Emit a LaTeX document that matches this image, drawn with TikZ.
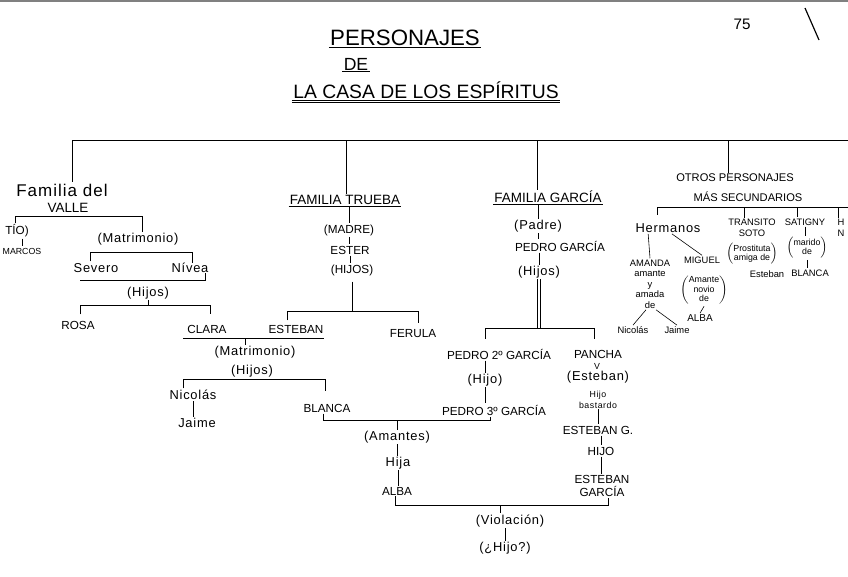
\documentclass[tikz,border=0pt]{standalone}
\usepackage{fontspec}
\setmainfont{Liberation Sans}
\newfontfamily\handfont[LetterSpace=6]{Liberation Sans}
\usetikzlibrary{positioning}

\begin{document}
\begin{tikzpicture}[
                    x=0.03cm, y=-0.03cm,
                    pers/.style={inner sep=1pt, font=\fontsize{10}{11}\selectfont},
                    cur/.style={inner sep=1pt, font=\handfont\fontsize{11}{12}\selectfont},
                    small/.style={inner sep=1pt, font=\fontsize{7.5}{8.5}\selectfont, align=center},
                    fam/.style={inner sep=1pt, font=\fontsize{11.5}{12}\selectfont, align=center},
                    link/.style={line width=0.6pt},
                    tick/.style={line width=0.5pt}
                ]
                \useasboundingbox (0,0) rectangle (848,576);
                \draw[gray, line width=1pt] (0,1) -- (848,1);
                % titulo
                \node[inner sep=1pt, font=\fontsize{19}{20}\selectfont] (tit1) at (405,38) {PERSONAJES};
                \node[inner sep=1pt, font=\fontsize{15}{16}\selectfont] (tit2) at (356,64) {DE};
                \node[inner sep=1pt, font=\fontsize{16.5}{17}\selectfont] (tit3) at (426,90) {LA CASA DE LOS ESPÍRITUS};
                \draw[link] (tit1.south west) -- (tit1.south east);
                \draw[link] (tit2.south west) -- (tit2.south east);
                \draw[link] (tit3.south west) -- (tit3.south east);
                \draw[link] ([yshift=-2pt]tit3.south west) -- ([yshift=-2pt]tit3.south east);
                \node[inner sep=1pt, font=\fontsize{13}{14}\selectfont] (pag) at (742,24) {75};
                \coordinate (rayaA) at (805,8);
                \coordinate (rayaB) at (819,40);
                \draw[line width=1pt] (rayaA) -- (rayaB);

                % linea principal
                \coordinate (lin0) at (72,140);
                \coordinate (lin1) at (848,140);
                \draw[link] (lin0) -- (lin1);
                \foreach \x/\n in {72/valle, 346/trueba, 537/garcia, 728/otros}{
                        \coordinate (t\n) at (\x,140);
                    }

                % familia del Valle
                \node[cur, font=\handfont\fontsize{14.5}{15}\selectfont] (valle) at (62,190) {Familia del};
                \node[fam] (valle2) at (68,208) {VALLE};
                \draw[link] (tvalle) -- (tvalle |- valle.north);
                \coordinate (vL) at (15,216);
                \coordinate (vR) at (142,216);
                \draw[link] (vL) -- (vR);
                \node[pers] (tio) at (17,231) {TÍO)};
                \node[small] (marcos) at (22,251) {MARCOS};
                \node[cur] (matri1) at (138,239) {(Matrimonio)};
                \draw[tick] (vL) -- (vL |- tio.north);
                \draw[tick] (vR) -- (vR |- matri1.north);
                \draw[tick] (tio.south -| marcos) -- (marcos.north);
                \coordinate (mL) at (90,252);
                \coordinate (mR) at (192,252);
                \draw[link] ([yshift=-8]mL) -- (mL) -- (mR) -- ([yshift=-9]mR);
                \node[cur] (severo) at (96,268) {Severo};
                \node[cur] (nivea) at (190,268) {Nívea};
                \coordinate (sL) at (80,280);
                \coordinate (sR) at (205,280);
                \draw[link] (sL) -- (sR) -- ([yshift=6]sR);
                \node[cur] (hijos1) at (148,293) {(Hijos)};
                \coordinate (hL) at (80,305);
                \coordinate (hR) at (210,305);
                \draw[link] ([yshift=-8]hL) -- (hL) -- (hR) -- ([yshift=-8]hR);
                \draw[tick] (hijos1.south) -- (hijos1.south |- hL);
                \node[pers] (rosa) at (78,325) {ROSA};
                \node[pers] (clara) at (207,329) {CLARA};

                % familia Trueba
                \node[fam] (trueba) at (345,200) {FAMILIA TRUEBA};
                \draw[link] (ttrueba) -- (ttrueba |- trueba.north);
                \draw[link] (trueba.south west) -- (trueba.south east);
                \node[pers] (madre) at (349,230) {(MADRE)};
                \node[pers] (ester) at (350,250) {ESTER};
                \node[pers] (hijos2) at (352,270) {(HIJOS)};
                \draw[tick] (trueba.south -| madre) -- (madre.north);
                \draw[tick] (madre.south) -- (madre.south |- ester.north);
                \draw[tick] (ester.south) -- (ester.south |- hijos2.north);
                \coordinate (eL) at (287,311);
                \coordinate (eR) at (418,311);
                \draw[link] ([yshift=-8]eL) -- (eL) -- (eR) -- ([yshift=-10]eR);
                \draw[link] ([yshift=-4]hijos2.south) -- (hijos2.south |- eL);
                \node[pers] (esteban) at (296,329) {ESTEBAN};
                \node[pers] (ferula) at (413,334) {FERULA};

                % Clara y Esteban
                \coordinate (cL) at (183,338);
                \coordinate (cR) at (324,338);
                \draw[link] (cL) -- (cR);
                \node[cur] (matri2) at (255,352) {(Matrimonio)};
                \node[cur] (hijos3) at (252,371) {(Hijos)};
                \draw[tick] (245,338) -- (245,345);
                \coordinate (nL) at (183,379);
                \coordinate (nR) at (325,379);
                \draw[link] ([yshift=-8]nL) -- (nL) -- (nR) -- ([yshift=-10]nR);
                \node[cur] (nicolas) at (193,395) {Nicolás};
                \node[cur] (jaime) at (197,423) {Jaime};
                \draw[tick] (nicolas) -- (nicolas |- jaime.north);
                \node[pers] (blanca) at (327,408) {BLANCA};

                % familia Garcia
                \node[fam] (garcia) at (548,197) {FAMILIA GARCÍA};
                \draw[link] (tgarcia) -- (tgarcia |- garcia.north);
                \draw[link] (garcia.south west) -- (garcia.south east);
                \node[cur] (padre) at (538,226) {(Padre)};
                \node[pers] (pedro1) at (560,246) {PEDRO GARCÍA};
                \node[cur] (hijos4) at (539,272) {(Hijos)};
                \draw[tick] (garcia.south -| padre) -- (padre.north);
                \draw[tick] (padre.south) -- (padre.south |- pedro1.north);
                \draw[tick] (pedro1.south -| hijos4) -- (hijos4.north);
                \coordinate (gL) at (485,328);
                \coordinate (gR) at (594,328);
                \draw[link] ([yshift=-9]gL) -- (gL) -- (gR) -- ([yshift=-9]gR);
                \draw[link] ([xshift=-1]hijos4.south) -- ([xshift=-1]hijos4.south |- gL);
                \draw[link] ([xshift=1]hijos4.south) -- ([xshift=1]hijos4.south |- gL);
                \node[pers] (pedro2) at (499,354) {PEDRO 2º GARCÍA};
                \node[cur] (hijo1) at (485,380) {(Hijo)};
                \node[pers] (pedro3) at (494,410) {PEDRO 3º GARCÍA};
                \draw[tick] (pedro2.south -| hijo1) -- (hijo1.north);
                \draw[tick] (hijo1.south) -- (hijo1.south |- pedro3.north);
                \node[pers] (pancha) at (598,354) {PANCHA};
                \node[small] (yy) at (597,366) {V};
                \node[cur] (estebanP) at (598,377) {(Esteban)};
                \node[small, font=\handfont\fontsize{7.5}{9.5}\selectfont, inner sep=0pt] (bastardo) at (598,400) {Hijo\\bastardo};
                \node[pers] (estebanG) at (598,430) {ESTEBAN G.};
                \node[pers] (hijo2) at (601,451) {HIJO};
                \node[pers, align=center] (estebanGa) at (602,486) {ESTEBAN\\GARCÍA};
                \draw[tick] (bastardo.south) -- (estebanG.north);
                \draw[tick] (estebanG.south -| hijo2) -- (hijo2.north);
                \draw[tick] (hijo2.south) -- (hijo2.south |- estebanGa.north);

                % Blanca y Pedro 3
                \coordinate (bL) at (323,420);
                \coordinate (bR) at (490,420);
                \draw[link] (blanca.south -| bL) -- (bL) -- (bR) -- (bR |- pedro3.south);
                \node[cur] (amantes) at (397,437) {(Amantes)};
                \node[cur] (hija) at (398,463) {Hija};
                \node[pers] (alba) at (397,491) {ALBA};
                \draw[tick] (amantes.north |- bL) -- (amantes.north);
                \draw[tick] (amantes.south) -- (amantes.south |- hija.north);
                \draw[tick] (hija.south) -- (hija.south |- alba.north);
                \coordinate (aL) at (395,505);
                \coordinate (aR) at (608,505);
                \draw[link] (alba.south -| aL) -- (aL) -- (aR) -- (aR |- estebanGa.south);
                \node[cur] (violacion) at (510,521) {(Violación)};
                \node[cur] (hijo3) at (505,548) {(¿Hijo?)};
                \draw[tick] (500,505) -- (500,513);
                \draw[tick] (violacion.south -| hijo3) -- (hijo3.north);

                % otros personajes
                \node[fam, font=\fontsize{9.5}{11}\selectfont] (otros) at (735,178) {OTROS PERSONAJES};
                \node[fam, font=\fontsize{9.5}{11}\selectfont] (otros2) at (748,197) {MÁS SECUNDARIOS};
                \draw[link] (totros) -- (totros |- otros.north);
                \coordinate (oL) at (657,207);
                \coordinate (oR) at (848,207);
                \draw[link] (oL) -- (oR);
                \node[cur] (hermanos) at (668,228) {Hermanos};
                \node[small, font=\fontsize{8}{9}\selectfont] (amanda) at (650,284) {AMANDA\\amante\\y\\amada\\de};
                \node[small, font=\fontsize{8}{9}\selectfont] (miguel) at (702,260) {MIGUEL};
                \node[small] (novio) at (704,290) {$\left(\mbox{\begin{tabular}{@{}c@{}}Amante\\novio\\de\end{tabular}}\right)$};
                \node[small, font=\fontsize{8.5}{9}\selectfont] (alba2) at (700,318) {ALBA};
                \node[small, font=\fontsize{8}{9}\selectfont] (nicolas2) at (633,330) {Nicolás};
                \node[small, font=\fontsize{8}{9}\selectfont] (jaime2) at (677,330) {Jaime};
                \draw[tick] (oL) -- ++(0,8);
                \draw[tick] (hermanos.south west) ++(14,0) -- (amanda.north);
                \draw[tick] (hermanos.south) ++(4,0) -- (miguel.north);
                \draw[tick] (amanda.south) ++(-4,0) -- (nicolas2.north);
                \draw[tick] (amanda.south) ++(6,0) -- (jaime2.north);
                \draw[tick] (novio.south) -- (alba2.north);
                \node[small, font=\fontsize{8}{9}\selectfont] (transito) at (752,228) {TRANSITO\\SOTO};
                \node[small] (prost) at (752,254) {$\left(\mbox{\begin{tabular}{@{}c@{}}Prostituta\\amiga de\end{tabular}}\right)$};
                \node[small, font=\fontsize{8}{9}\selectfont] (estebanT) at (767,274) {Esteban};
                \node[small, font=\fontsize{8}{9}\selectfont] (satigny) at (805,222) {SATIGNY};
                \node[small] (marido) at (807,248) {$\left(\mbox{\begin{tabular}{@{}c@{}}marido\\de\end{tabular}}\right)$};
                \node[small, font=\fontsize{8}{9}\selectfont] (blanca2) at (810,273) {BLANCA};
                \draw[tick] (744,207) -- (transito.north -| 744,0);
                \draw[tick] (797,207) -- (satigny.north -| 797,0);
                \draw[tick] (satigny.south) -- (satigny.south |- marido.north);
                \draw[tick] (marido.south) -- (marido.south |- blanca2.north);
                \node[small, font=\fontsize{8}{9}\selectfont] (otroH) at (841,228) {H\\N};
                \draw[tick] (838,207) -- (otroH.north -| 838,0);
            \end{tikzpicture}
\end{document}
